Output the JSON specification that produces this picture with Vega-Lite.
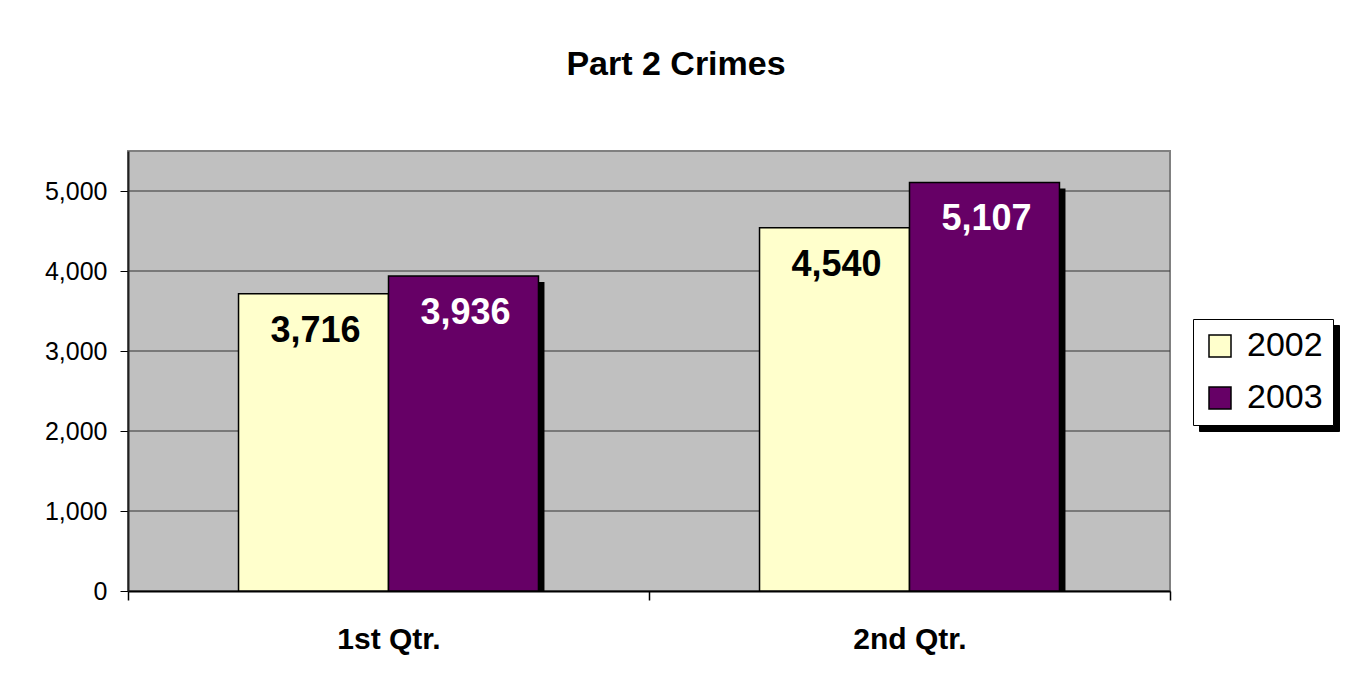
{
  "$schema": "https://vega.github.io/schema/vega-lite/v6.json",
  "autosize": "none",
  "width": 1042,
  "height": 440,
  "padding": {"left": 128, "top": 151, "right": 184, "bottom": 105},
  "background": "white",
  "title": {
    "text": "Part 2 Crimes",
    "font": "Liberation Sans",
    "fontSize": 34,
    "fontWeight": "bold",
    "color": "black",
    "anchor": "middle",
    "frame": "group",
    "baseline": "alphabetic",
    "dx": 27,
    "offset": 42
  },
  "data": {
    "values": [
      {"quarter": "1st Qtr.", "year": "2002", "crimes": 3716},
      {"quarter": "1st Qtr.", "year": "2003", "crimes": 3936},
      {"quarter": "2nd Qtr.", "year": "2002", "crimes": 4540},
      {"quarter": "2nd Qtr.", "year": "2003", "crimes": 5107}
    ]
  },
  "encoding": {
    "y": {
      "field": "crimes",
      "type": "quantitative",
      "scale": {"domain": [0, 5500], "nice": false},
      "axis": {
        "title": null,
        "values": [0, 1000, 2000, 3000, 4000, 5000],
        "format": ",.0f",
        "labelFont": "Liberation Sans",
        "labelFontSize": 25,
        "labelColor": "black",
        "labelPadding": 13,
        "tickSize": 8,
        "tickColor": "black",
        "domainColor": "#202020",
        "domainWidth": 2,
        "grid": false
      }
    }
  },
  "layer": [
    {
      "data": {"values": [{"gridline": 1000}, {"gridline": 2000}, {"gridline": 3000}, {"gridline": 4000}, {"gridline": 5000}]},
      "mark": {"type": "rule", "color": "#333333", "strokeWidth": 1},
      "encoding": {
        "y": {"field": "gridline", "type": "quantitative"}
      }
    },
    {
      "mark": {"type": "bar", "yOffset": 6, "clip": true, "stroke": null},
      "encoding": {
        "x": {
          "field": "quarter",
          "type": "nominal",
          "scale": {"paddingInner": 0, "paddingOuter": 0, "range": [6, 1048]},
          "axis": null
        },
        "xOffset": {
          "field": "year",
          "type": "nominal",
          "scale": {"paddingInner": 0, "paddingOuter": 0.737}
        },
        "color": {
          "field": "year",
          "type": "nominal",
          "scale": {"domain": ["2003", "2002"], "range": ["black", "black"]},
          "legend": {
            "title": null,
            "orient": "none",
            "legendX": 1071,
            "legendY": 174,
            "direction": "vertical",
            "fillColor": "black",
            "strokeColor": "black",
            "padding": 10,
            "symbolType": "square",
            "symbolSize": 1225,
            "symbolStrokeColor": "black",
            "symbolOpacity": 1,
            "labelExpr": "''",
            "labelFontSize": 34,
            "labelOffset": 83,
            "rowPadding": 6
          }
        }
      }
    },
    {
      "encoding": {
        "x": {
          "field": "quarter",
          "type": "nominal",
          "scale": {"paddingInner": 0, "paddingOuter": 0},
          "axis": {
            "title": null,
            "labelAngle": 0,
            "labelFont": "Liberation Sans",
            "labelFontSize": 30,
            "labelFontWeight": "bold",
            "labelColor": "black",
            "labelPadding": 24,
            "tickBand": "extent",
            "tickSize": 9,
            "tickColor": "black",
            "tickWidth": 1.5,
            "domainColor": "black",
            "domainWidth": 2
          }
        },
        "xOffset": {
          "field": "year",
          "type": "nominal",
          "scale": {"paddingInner": 0, "paddingOuter": 0.737}
        }
      },
      "layer": [
        {
          "mark": {"type": "bar", "stroke": "black", "strokeWidth": 1.5},
          "encoding": {
            "fill": {
              "field": "year",
              "type": "nominal",
              "scale": {"domain": ["2002", "2003"], "range": ["#FFFFCC", "#660066"]},
              "legend": {
                "title": null,
                "orient": "none",
                "legendX": 1065,
                "legendY": 168,
                "direction": "vertical",
                "fillColor": "white",
                "strokeColor": "black",
                "padding": 10,
                "symbolType": "square",
                "symbolSize": 484,
                "symbolStrokeColor": "black",
                "symbolStrokeWidth": 1.5,
                "symbolOpacity": 1,
                "labelFont": "Liberation Sans",
                "labelFontSize": 34,
                "labelColor": "black",
                "labelOffset": 10,
                "rowPadding": 18
              }
            }
          }
        },
        {
          "mark": {"type": "text", "font": "Liberation Sans", "fontSize": 36, "fontWeight": "bold", "baseline": "alphabetic", "dy": 48, "dx": 2},
          "encoding": {
            "text": {"field": "crimes", "type": "quantitative", "format": ","},
            "color": {"condition": {"test": "datum.year == '2002'", "value": "black"}, "value": "white"}
          }
        }
      ]
    }
  ],
  "resolve": {"scale": {"x": "independent"}},
  "config": {
    "view": {"fill": "#C0C0C0", "stroke": "#808080", "strokeWidth": 2}
  }
}
